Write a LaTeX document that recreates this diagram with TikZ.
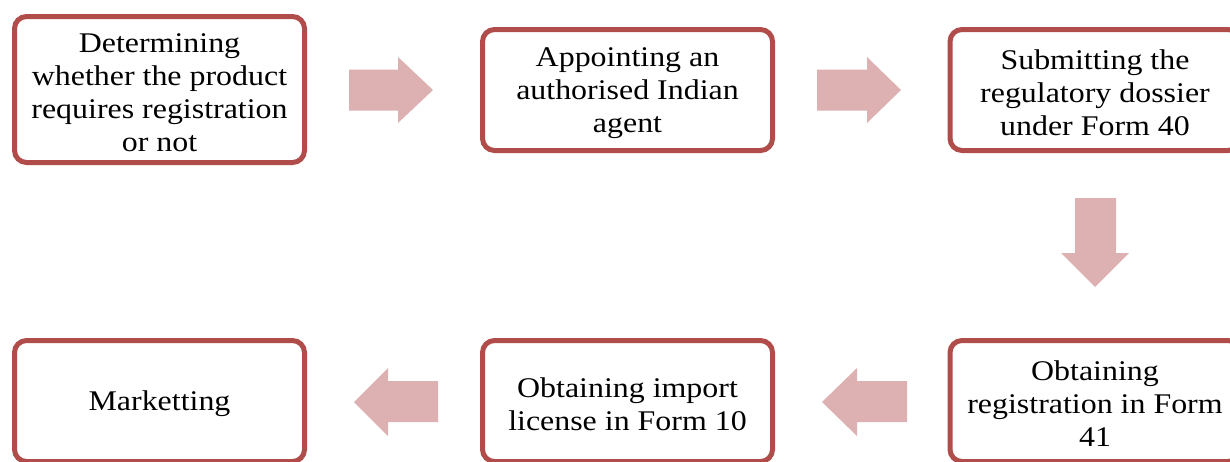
\documentclass[tikz,border=0pt]{standalone}
\usepackage{fontspec}
\setmainfont{Liberation Serif}[FakeStretch=1.12]
\definecolor{boxline}{RGB}{176,76,74}
\definecolor{arrowfill}{RGB}{221,177,177}
\begin{document}
\begin{tikzpicture}[x=1pt,y=-1pt,
  stepbox/.style={draw=boxline, line width=5pt, rounded corners=12pt, fill=white,
    minimum width=290pt, minimum height=121pt, inner sep=0pt},
  steptext/.style={align=center, inner sep=0pt, yshift=-3pt,
    font=\fontsize{28.5}{33}\selectfont},
  blockarrow/.style={fill=arrowfill, draw=none}]
\useasboundingbox (0,0) rectangle (1230,461);
\clip (0,0) rectangle (1230,461);
% boxes
\node[stepbox, minimum height=146pt] (b1) at (159.5,89.5) {};
\node[steptext] (t1) at (b1) {Determining\\whether the product\\requires registration\\or not};
\node[stepbox] (b2) at (627.5,90) {};
\node[steptext] (t2) at (b2) {Appointing an\\authorised Indian\\agent};
\node[stepbox] (b3) at (1095,90) {};
\node[steptext] (t3) at (b3) {Submitting the\\regulatory dossier\\under Form 40};
\node[stepbox] (b6) at (1095,401) {};
\node[steptext] (t6) at (b6) {Obtaining\\registration in Form\\41};
\node[stepbox] (b5) at (627.5,401) {};
\node[steptext] (t5) at (b5) {Obtaining import\\license in Form 10};
\node[stepbox] (b4) at (159.5,401) {};
\node[steptext] (t4) at (b4) {Marketting};
% block arrows
\fill[blockarrow] (349,69.5) -- (398,69.5) -- (398,57) -- (433,90) -- (398,123) -- (398,110.5) -- (349,110.5) -- cycle;
\fill[blockarrow] (817,69.5) -- (867,69.5) -- (867,57) -- (901,90) -- (867,123) -- (867,110.5) -- (817,110.5) -- cycle;
\fill[blockarrow] (1075,198) -- (1116,198) -- (1116,253) -- (1129,253) -- (1095,287) -- (1061,253) -- (1075,253) -- cycle;
\fill[blockarrow] (907,381) -- (857,381) -- (857,368) -- (822,402) -- (857,436) -- (857,422) -- (907,422) -- cycle;
\fill[blockarrow] (438,381) -- (388,381) -- (388,368) -- (354,402) -- (388,436) -- (388,422) -- (438,422) -- cycle;
\end{tikzpicture}
\end{document}
